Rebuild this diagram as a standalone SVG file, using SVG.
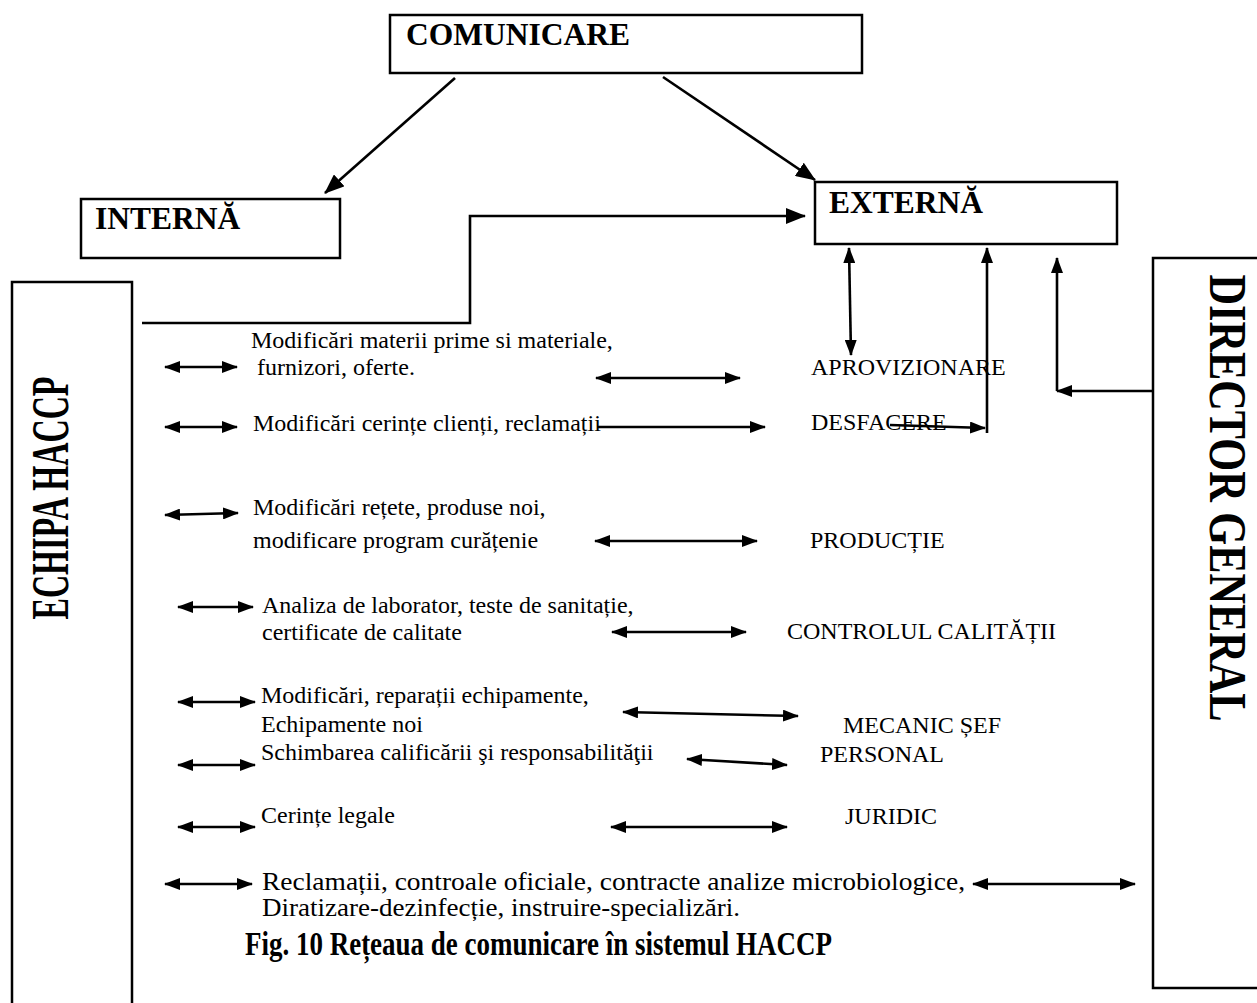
<svg xmlns="http://www.w3.org/2000/svg" width="1257" height="1003" viewBox="0 0 1257 1003">
  <style>
    .box { fill: #fff; stroke: #000; stroke-width: 2.5; }
    .title { font-family: "Liberation Serif", "Times New Roman", serif; font-weight: bold; font-size: 31.5px; fill: #000; }
    .side { font-family: "Liberation Serif", "Times New Roman", serif; font-weight: bold; font-size: 52px; fill: #000; }
    .txt { font-family: "Liberation Serif", "Times New Roman", serif; font-size: 24px; fill: #000; }
    .wide { font-size: 25px; }
    .cap { font-family: "Liberation Serif", "Times New Roman", serif; font-weight: bold; font-size: 33px; fill: #000; }
    .ln { fill: none; stroke: #000; stroke-width: 2.6; }
    .dbl { marker-start: url(#head); marker-end: url(#head); }
    .one { marker-end: url(#head); }
    .big { marker-end: url(#bighead); }
  </style>
  <defs>
    <marker id="head" viewBox="0 0 16 12" refX="15" refY="6" markerWidth="16" markerHeight="12" markerUnits="userSpaceOnUse" orient="auto-start-reverse">
      <path d="M0,0 L16,6 L0,12 z" fill="#000"/>
    </marker>
    <marker id="bighead" viewBox="0 0 20 16" refX="19" refY="8" markerWidth="20" markerHeight="16" markerUnits="userSpaceOnUse" orient="auto">
      <path d="M0,0 L20,8 L0,16 z" fill="#000"/>
    </marker>
  </defs>

  <!-- top level -->
  <g id="comunicare">
    <rect class="box" x="390" y="15" width="472" height="58"/>
    <text class="title" x="406" y="45">COMUNICARE</text>
  </g>
  <g id="interna">
    <rect class="box" x="81" y="199" width="259" height="59"/>
    <text class="title" x="95" y="229">INTERNĂ</text>
  </g>
  <g id="externa">
    <rect class="box" x="815" y="182" width="302" height="62"/>
    <text class="title" x="829" y="213">EXTERNĂ</text>
  </g>

  <!-- side columns -->
  <g id="echipa-haccp">
    <rect class="box" x="12" y="282" width="120" height="740"/>
    <text class="side" transform="translate(68,498) rotate(-90)" text-anchor="middle" textLength="243" lengthAdjust="spacingAndGlyphs">ECHIPA HACCP</text>
  </g>
  <g id="director-general">
    <rect class="box" x="1153" y="258" width="120" height="730"/>
    <text class="side" transform="translate(1210,498) rotate(90)" text-anchor="middle" textLength="447" lengthAdjust="spacingAndGlyphs">DIRECTOR GENERAL</text>
  </g>

  <!-- topics exchanged with the HACCP team -->
  <g id="topics">
    <text class="txt" x="251" y="348">Modificări materii prime si materiale,</text>
    <text class="txt" x="257" y="375">furnizori, oferte.</text>
    <text class="txt" x="253" y="431">Modificări cerințe clienți, reclamații</text>
    <text class="txt" x="253" y="515">Modificări rețete, produse noi,</text>
    <text class="txt" x="253" y="548">modificare program curățenie</text>
    <text class="txt" x="262" y="613">Analiza de laborator, teste de sanitație,</text>
    <text class="txt" x="262" y="640">certificate de calitate</text>
    <text class="txt" x="261" y="703">Modificări, reparații echipamente,</text>
    <text class="txt" x="261" y="732">Echipamente noi</text>
    <text class="txt" x="261" y="760">Schimbarea calificării şi responsabilităţii</text>
    <text class="txt" x="261" y="823">Cerințe legale</text>
    <text class="txt wide" x="262" y="890" textLength="703" lengthAdjust="spacingAndGlyphs">Reclamații, controale oficiale, contracte analize microbiologice,</text>
    <text class="txt wide" x="262" y="916" textLength="478" lengthAdjust="spacingAndGlyphs">Diratizare-dezinfecție, instruire-specializări.</text>
  </g>

  <!-- departments -->
  <g id="aprovizionare"><text class="txt" x="811" y="375">APROVIZIONARE</text></g>
  <g id="desfacere"><text class="txt" x="811" y="430">DESFACERE</text></g>
  <g id="productie"><text class="txt" x="810" y="548">PRODUCȚIE</text></g>
  <g id="controlul-calitatii"><text class="txt" x="787" y="639">CONTROLUL CALITĂȚII</text></g>
  <g id="mecanic-sef"><text class="txt" x="843" y="733">MECANIC ȘEF</text></g>
  <g id="personal"><text class="txt" x="820" y="762">PERSONAL</text></g>
  <g id="juridic"><text class="txt" x="845" y="824">JURIDIC</text></g>

  <!-- connectors -->
  <g id="connectors">
    <line class="ln big" x1="455" y1="78" x2="325" y2="193"/>
    <line class="ln big" x1="663" y1="77" x2="815" y2="180"/>
    <polyline class="ln big" points="142,323 470,323 470,216 805,216"/>
    <line class="ln dbl" x1="849" y1="248" x2="851" y2="355"/>
    <line class="ln one" x1="890" y1="425" x2="985" y2="428"/>
    <line class="ln one" x1="987" y1="433" x2="987" y2="248"/>
    <line class="ln one" x1="1153" y1="391" x2="1057" y2="391"/>
    <line class="ln one" x1="1057" y1="391" x2="1057" y2="258"/>

    <line class="ln dbl" x1="165" y1="367" x2="237" y2="367"/>
    <line class="ln dbl" x1="596" y1="378" x2="740" y2="378"/>
    <line class="ln dbl" x1="165" y1="427" x2="237" y2="427"/>
    <line class="ln one" x1="597" y1="427" x2="765" y2="427"/>
    <line class="ln dbl" x1="165" y1="515" x2="238" y2="513"/>
    <line class="ln dbl" x1="595" y1="541" x2="757" y2="541"/>
    <line class="ln dbl" x1="178" y1="607" x2="253" y2="607"/>
    <line class="ln dbl" x1="612" y1="632" x2="746" y2="632"/>
    <line class="ln dbl" x1="178" y1="702" x2="255" y2="702"/>
    <line class="ln dbl" x1="623" y1="712" x2="798" y2="716"/>
    <line class="ln dbl" x1="178" y1="765" x2="255" y2="765"/>
    <line class="ln dbl" x1="687" y1="759" x2="787" y2="765"/>
    <line class="ln dbl" x1="178" y1="827" x2="255" y2="827"/>
    <line class="ln dbl" x1="611" y1="827" x2="787" y2="827"/>
    <line class="ln dbl" x1="165" y1="884" x2="252" y2="884"/>
    <line class="ln dbl" x1="973" y1="884" x2="1135" y2="884"/>
  </g>

  <g id="caption">
    <text class="cap" x="245" y="955" textLength="587" lengthAdjust="spacingAndGlyphs">Fig. 10 Rețeaua de comunicare în sistemul HACCP</text>
  </g>
</svg>
